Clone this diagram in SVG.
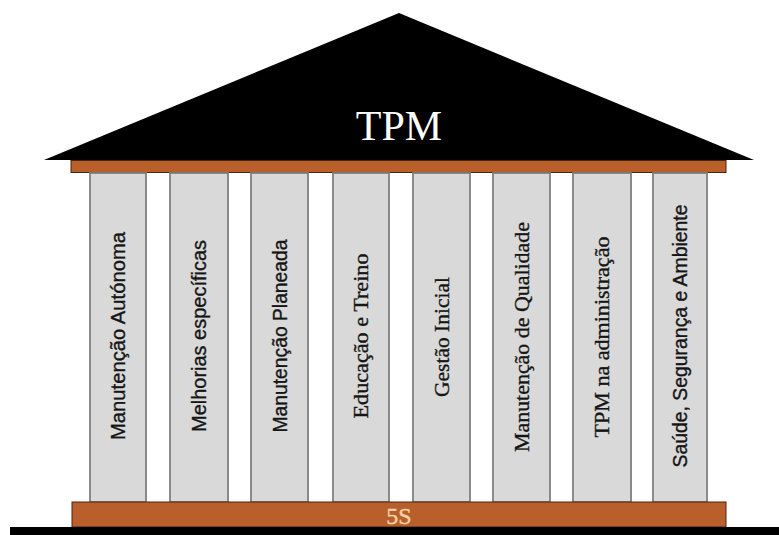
<svg xmlns="http://www.w3.org/2000/svg" width="779" height="535" viewBox="0 0 779 535">
  <style>
    .pillar rect { fill: #d9d9d9; stroke: #7f7f7f; stroke-width: 1.8; }
    .pillar text { fill: #151515; stroke: #151515; stroke-width: 0.35; text-anchor: middle; }
    .beam { fill: #b95f2b; stroke: #4a2410; stroke-width: 1; }
  </style>
  <rect width="779" height="535" fill="#ffffff"/>

  <!-- roof -->
  <g id="roof">
    <polygon points="44,160 399,13 754,160" fill="#000000"/>
    <text x="399" y="140" font-family="'Liberation Serif', 'Times New Roman', serif" font-size="42" fill="#ffffff" text-anchor="middle">TPM</text>
  </g>

  <!-- architrave under the roof -->
  <rect id="architrave" class="beam" x="71" y="160.5" width="655" height="12"/>

  <!-- pillars -->
  <g id="pillar-1" class="pillar">
    <rect x="90" y="173" width="56" height="329"/>
    <text font-family="'Liberation Sans', Arial, sans-serif" font-size="20" transform="translate(125,336) rotate(-90)" textLength="208" lengthAdjust="spacingAndGlyphs">Manutenção Autónoma</text>
  </g>
  <g id="pillar-2" class="pillar">
    <rect x="170" y="173" width="58" height="329"/>
    <text font-family="'Liberation Sans', Arial, sans-serif" font-size="20" transform="translate(206,336) rotate(-90)" textLength="192" lengthAdjust="spacingAndGlyphs">Melhorias específicas</text>
  </g>
  <g id="pillar-3" class="pillar">
    <rect x="251" y="173" width="57" height="329"/>
    <text font-family="'Liberation Sans', Arial, sans-serif" font-size="20" transform="translate(286.5,336) rotate(-90)" textLength="193" lengthAdjust="spacingAndGlyphs">Manutenção Planeada</text>
  </g>
  <g id="pillar-4" class="pillar">
    <rect x="333" y="173" width="56" height="329"/>
    <text font-family="'Liberation Serif', 'Times New Roman', serif" font-size="21" transform="translate(368,336) rotate(-90)" textLength="165" lengthAdjust="spacingAndGlyphs">Educação e Treino</text>
  </g>
  <g id="pillar-5" class="pillar">
    <rect x="413" y="173" width="57" height="329"/>
    <text font-family="'Liberation Serif', 'Times New Roman', serif" font-size="21" transform="translate(448.5,337) rotate(-90)" textLength="120" lengthAdjust="spacingAndGlyphs">Gestão Inicial</text>
  </g>
  <g id="pillar-6" class="pillar">
    <rect x="493" y="173" width="57" height="329"/>
    <text font-family="'Liberation Serif', 'Times New Roman', serif" font-size="21" transform="translate(528.5,337) rotate(-90)" textLength="230" lengthAdjust="spacingAndGlyphs">Manutenção de Qualidade</text>
  </g>
  <g id="pillar-7" class="pillar">
    <rect x="573" y="173" width="58" height="329"/>
    <text font-family="'Liberation Serif', 'Times New Roman', serif" font-size="21" transform="translate(609,337) rotate(-90)" textLength="201" lengthAdjust="spacingAndGlyphs">TPM na administração</text>
  </g>
  <g id="pillar-8" class="pillar">
    <rect x="653" y="173" width="54" height="329"/>
    <text font-family="'Liberation Sans', Arial, sans-serif" font-size="20" transform="translate(687,336) rotate(-90)" textLength="263" lengthAdjust="spacingAndGlyphs">Saúde, Segurança e Ambiente</text>
  </g>

  <!-- foundation -->
  <g id="foundation">
    <rect class="beam" x="72" y="502" width="654" height="25"/>
    <text x="399" y="524" font-family="'Liberation Serif', 'Times New Roman', serif" font-size="24" fill="#f8d2a6" stroke="#f8d2a6" stroke-width="0.4" text-anchor="middle">5S</text>
  </g>
  <rect id="ground" x="10" y="527" width="769" height="8" fill="#000000"/>
</svg>
